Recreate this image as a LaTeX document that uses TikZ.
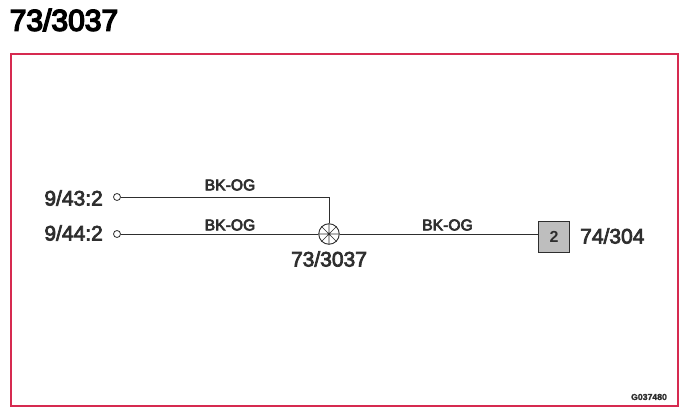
\documentclass[tikz,border=0pt]{standalone}
\usepackage{fontspec}
\setmainfont{Liberation Sans}
\definecolor{frame}{HTML}{D62A50}
\definecolor{ink}{HTML}{2E2E2E}
\definecolor{boxfill}{HTML}{BEBEBE}
\tikzset{
 wire/.style={draw=ink,line width=0.9pt},
 term/.style={circle,draw=ink,line width=0.8pt,fill=white,minimum size=7pt,inner sep=0pt},
 lamp/.style={circle,draw=ink,line width=0.9pt,fill=white,minimum size=20.5pt,inner sep=0pt},
 big/.style={text=ink,font=\fontsize{21}{21}\selectfont\addfontfeature{FakeBold=3.5},inner sep=0pt},
 wlabel/.style={text=ink,font=\fontsize{15.7}{16}\selectfont\addfontfeature{FakeBold=4},inner sep=0pt},
}
\begin{document}
\begin{tikzpicture}[x=1pt,y=-1pt]
\useasboundingbox (0,0) rectangle (688,414);
\node[draw=frame,line width=2pt,minimum width=667pt,minimum height=352pt,inner sep=0pt] (frm) at (344.5,230) {};
\node[anchor=center,inner sep=0pt,font=\fontsize{30}{30}\selectfont\addfontfeature{FakeBold=5},text=black] (title) at (64,20) {73/3037};
\node[big,anchor=east] (l1) at (103,198) {9/43:2};
\node[big,anchor=east] (l2) at (103,233) {9/44:2};
\node[term] (t1) at (117,197) {};
\node[term] (t2) at (117,234) {};
\node[lamp] (lamp) at (329,234) {};
\node[draw=ink,line width=0.9pt,fill=boxfill,minimum size=31pt,inner sep=0pt,font=\fontsize{16}{16}\selectfont\bfseries,text=ink] (box) at (554,237) {2};
\node[big,anchor=west] (boxl) at (580,236) {74/304};
\node[big] (lampl) at (329,259) {73/3037};
\node[wlabel] (w1) at (230,185) {BK-OG};
\node[wlabel] (w2) at (230,225) {BK-OG};
\node[wlabel] (w3) at (447.5,225) {BK-OG};
\node[inner sep=0pt,text=ink,font=\fontsize{8.7}{9}\selectfont\bfseries\addfontfeature{FakeBold=2}] (code) at (649,397) {G037480};
\draw[wire] (t1.east) -| (lamp.north);
\draw[wire] (t2.east) -- (lamp.west);
\draw[wire] (lamp.east) -- (lamp.east -| box.west);
\draw[ink,line width=0.6pt] (lamp.45) -- (lamp.225) (lamp.135) -- (lamp.315) (lamp.north) -- (lamp.south) (lamp.west) -- (lamp.east);
\end{tikzpicture}
\end{document}
